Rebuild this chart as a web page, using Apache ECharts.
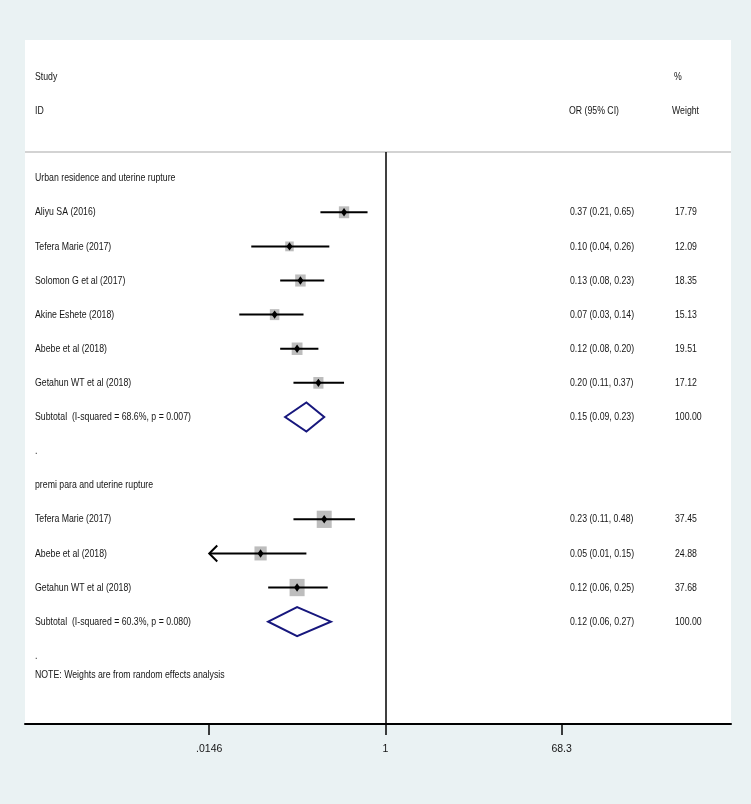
<!DOCTYPE html>
<html>
<head>
<meta charset="utf-8">
<script src="https://cdn.jsdelivr.net/npm/echarts@6/dist/echarts.min.js"></script>
<style>
html,body{margin:0;padding:0;background:#eaf2f3;}
#chart{width:751px;height:804px;}
</style>
</head>
<body>
<div id="chart"></div>
<script>
// ---------------- data ----------------
const headerStudy = 'Study';
const headerID = 'ID';
const headerOR = 'OR (95% CI)';
const headerPct = '%';
const headerWeight = 'Weight';

const groupTitles = ['Urban residence and uterine rupture', 'premi para and uterine rupture'];

const studies1 = ['Aliyu SA (2016)', 'Tefera Marie (2017)', 'Solomon G et al (2017)', 'Akine Eshete (2018)', 'Abebe et al (2018)', 'Getahun WT et al (2018)'];
const or1 = [0.37, 0.10, 0.13, 0.07, 0.12, 0.20];
const lo1 = [0.21, 0.04, 0.08, 0.03, 0.08, 0.11];
const hi1 = [0.65, 0.26, 0.23, 0.14, 0.20, 0.37];
const weight1 = [17.79, 12.09, 18.35, 15.13, 19.51, 17.12];
const subtotalLabel1 = 'Subtotal  (I-squared = 68.6%, p = 0.007)';
const subtotal1 = [0.15, 0.09, 0.23, 100.00];

const studies2 = ['Tefera Marie (2017)', 'Abebe et al (2018)', 'Getahun WT et al (2018)'];
const or2 = [0.23, 0.05, 0.12];
const lo2 = [0.11, 0.01, 0.06];
const hi2 = [0.48, 0.15, 0.25];
const weight2 = [37.45, 24.88, 37.68];
const subtotalLabel2 = 'Subtotal  (I-squared = 60.3%, p = 0.080)';
const subtotal2 = [0.12, 0.06, 0.27, 100.00];

const noteText = 'NOTE: Weights are from random effects analysis';

const tickValues = [0.0146, 1, 68.3];
const tickLabels = ['.0146', '1', '68.3'];

// ---------------- layout helpers ----------------
const FONT_FAMILY = '"Liberation Sans", Arial, sans-serif';
const FONT_SIZE = 11.5;
const TEXT_SCALE_X = 0.76;
const TEXT_COLOR = '#151515';
const X_MIN = Math.log(tickValues[0]);   // clip limit for CIs
const AXIS_MIN = -8.645, AXIS_MAX = 8.285;
const LEFT_COL = 35, OR_COL = 570, W_COL = 675;

// build rows
const rows = [];
let r = 0;
rows.push({kind: 'header'});
function addGroup(title, names, ors, los, his, ws, subLabel, sub) {
  rows.push({kind: 'title', y: r, text: title}); r++;
  for (let i = 0; i < names.length; i++) {
    rows.push({kind: 'study', y: r, text: names[i], or: ors[i], lo: los[i], hi: his[i], w: ws[i]}); r++;
  }
  rows.push({kind: 'subtotal', y: r, text: subLabel, or: sub[0], lo: sub[1], hi: sub[2], w: sub[3]}); r++;
  rows.push({kind: 'dot', y: r, text: '.'}); r++;
}
r = -1;
addGroup(groupTitles[0], studies1, or1, lo1, hi1, weight1, subtotalLabel1, subtotal1);
addGroup(groupTitles[1], studies2, or2, lo2, hi2, weight2, subtotalLabel2, subtotal2);
rows.push({kind: 'note', y: r - 0.45, text: noteText});

const fmt = v => v.toFixed(2);

function txt(text, x, y) {
  return {type: 'text', silent: true, x: x, y: y, scaleX: TEXT_SCALE_X,
    style: {text: text, x: 0, y: 0, fill: TEXT_COLOR,
      fontSize: FONT_SIZE, fontFamily: FONT_FAMILY, align: 'left', verticalAlign: 'middle'}};
}

function renderItem(params, api) {
  const row = rows[params.dataIndex];
  const children = [];
  if (row.kind === 'header') {
    const y1 = api.coord([0, -4])[1] + 1;
    const y2 = api.coord([0, -3])[1] + 1;
    children.push(txt(headerStudy, LEFT_COL, y1));
    children.push(txt(headerID, LEFT_COL, y2));
    children.push(txt(headerOR, OR_COL - 1, y2));
    children.push(txt(headerPct, W_COL - 1, y1));
    children.push(txt(headerWeight, W_COL - 3, y2));
    return {type: 'group', children: children};
  }
  const cy = api.coord([0, row.y])[1];
  children.push(txt(row.text, LEFT_COL, cy));
  if (row.kind === 'study' || row.kind === 'subtotal') {
    children.push(txt(fmt(row.or) + ' (' + fmt(row.lo) + ', ' + fmt(row.hi) + ')', OR_COL, cy));
    children.push(txt(fmt(row.w), W_COL, cy));
    const cx = api.coord([Math.log(row.or), row.y])[0];
    const lnLo = Math.log(row.lo);
    const clipped = lnLo < X_MIN;
    const xl = api.coord([clipped ? X_MIN : lnLo, row.y])[0];
    const xh = api.coord([Math.log(row.hi), row.y])[0];
    if (row.kind === 'study') {
      const s = 2.45 * Math.sqrt(row.w);
      children.push({type: 'rect', shape: {x: cx - s / 2, y: cy - s / 2 * 1.15, width: s, height: s * 1.15},
        style: {fill: '#bdbdbd'}});
      children.push({type: 'line', shape: {x1: xl, y1: cy, x2: xh, y2: cy},
        style: {stroke: '#000', lineWidth: 2}});
      if (clipped) {
        children.push({type: 'polyline', shape: {points: [[xl + 8, cy - 8], [xl, cy], [xl + 8, cy + 8]]},
          style: {stroke: '#000', lineWidth: 2, fill: null}});
      }
      children.push({type: 'polygon', shape: {points: [[cx - 3, cy], [cx, cy - 4.2], [cx + 3, cy], [cx, cy + 4.2]]},
        style: {fill: '#000'}});
    } else {
      const h = 14.5;
      children.push({type: 'polygon', shape: {points: [[xl, cy], [cx, cy - h], [xh, cy], [cx, cy + h]]},
        style: {stroke: '#17177d', lineWidth: 2, fill: 'none'}});
    }
  }
  return {type: 'group', children: children};
}

const lnTicks = tickValues.map(v => Math.log(v));

const chart = echarts.init(document.getElementById('chart'), null, {renderer: 'canvas'});
chart.setOption({
  backgroundColor: '#eaf2f3',
  animation: false,
  grid: {left: 25, right: 20, top: 40, bottom: 80, show: true, backgroundColor: '#ffffff', borderWidth: 0},
  xAxis: {
    type: 'value', min: AXIS_MIN, max: AXIS_MAX,
    splitLine: {show: false},
    axisLine: {show: true, onZero: false, lineStyle: {color: '#000', width: 2}},
    axisTick: {show: true, customValues: lnTicks, length: 11, lineStyle: {color: '#000', width: 1.5}},
    axisLabel: {
      show: true, customValues: lnTicks, margin: 20, color: TEXT_COLOR, fontSize: 10.5, fontFamily: FONT_FAMILY,
      formatter: function (v) {
        let best = 0, bd = Infinity;
        lnTicks.forEach((t, i) => { const d = Math.abs(t - v); if (d < bd) { bd = d; best = i; } });
        return tickLabels[best];
      }
    }
  },
  yAxis: {type: 'value', inverse: true, min: -5.05, max: 15, show: false},
  series: [{
    type: 'custom',
    renderItem: renderItem,
    clip: false,
    silent: true,
    data: rows.map(row => [0, row.kind === 'header' ? -4 : row.y]),
    markLine: {
      silent: true, symbol: 'none', animation: false,
      label: {show: false},
      data: [
        [{coord: [AXIS_MIN, -1.77], lineStyle: {color: '#c4c4c4', width: 1.5, type: 'solid'}}, {coord: [AXIS_MAX, -1.77]}],
        [{coord: [0, -1.77], lineStyle: {color: '#000', width: 1.5, type: 'solid'}}, {coord: [0, 15]}]
      ]
    }
  }]
});
</script>
</body>
</html>
